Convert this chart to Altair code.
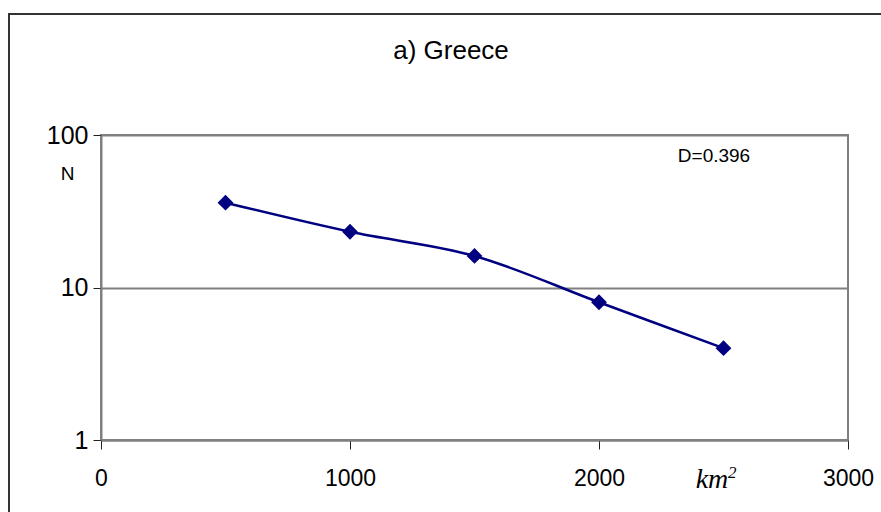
import altair as alt
import pandas as pd

# Number of events N per area class (km^2), log-scaled count axis
area_km2 = [500, 1000, 1500, 2000, 2500]
count_n = [36.0, 23.2, 16.1, 8.0, 4.0]
x_ticks = [0, 1000, 2000, 3000]
y_ticks = [1, 10, 100]
title_text = "a) Greece"
dim_label = "D=0.396"

df = pd.DataFrame({"area": area_km2, "n": count_n})
one = pd.DataFrame({"k": [0]})

NAVY = "#000080"
GRID = "#808080"
FONT = "Liberation Sans"

x_enc = alt.X(
    "area:Q",
    scale=alt.Scale(domain=[0, 3000], nice=False, zero=False),
    axis=alt.Axis(
        values=x_ticks, format="d", grid=False, title=None,
        labelFontSize=23, labelPadding=18, tickSize=9, labelFlush=False,
    ),
)
y_enc = alt.Y(
    "n:Q",
    scale=alt.Scale(type="log", domain=[1, 100], nice=False),
    axis=alt.Axis(
        values=y_ticks, format="d", grid=True, gridColor=GRID, gridWidth=2,
        labelFontSize=25, labelPadding=5, tickSize=8,
        title="N", titleAngle=0, titleAlign="center", titleBaseline="middle",
        titleX=-34, titleY=38, titleFontSize=19, titleFontWeight="normal",
        titleFont=FONT,
    ),
)

base = alt.Chart(df)

curve = base.mark_line(color=NAVY, strokeWidth=2.5, interpolate="catmull-rom").encode(
    x=x_enc, y=y_enc
)
markers = base.mark_point(
    shape="diamond", filled=True, size=250, color=NAVY, opacity=1
).encode(x="area:Q", y="n:Q")

title_mark = alt.Chart(one).mark_text(
    text=title_text, font=FONT, fontSize=26, align="center", baseline="alphabetic", color="black"
).encode(x=alt.value(350), y=alt.value(-76))

d_text = alt.Chart(one).mark_text(
    text=dim_label, font=FONT, fontSize=19, align="center", baseline="middle", color="black"
).encode(x=alt.value(613), y=alt.value(21))

km_text = alt.Chart(one).mark_text(
    text="km", font="Liberation Serif", fontStyle="italic", fontSize=28,
    align="center", baseline="alphabetic", color="black"
).encode(x=alt.value(611), y=alt.value(353))

sq_text = alt.Chart(one).mark_text(
    text="2", font="Liberation Serif", fontStyle="italic", fontSize=17,
    align="left", baseline="alphabetic", color="black"
).encode(x=alt.value(627), y=alt.value(343))

frame = alt.Chart(one).mark_rect(
    fill=None, fillOpacity=0, stroke="#333333", strokeWidth=2
).encode(x=alt.value(-92), y=alt.value(-121), x2=alt.value(900), y2=alt.value(500))

chart = (
    alt.layer(frame, curve, markers, title_mark, d_text, km_text, sq_text)
    .properties(
        width=747,
        height=305,
        autosize=alt.AutoSizeParams(type="none"),
        padding={"left": 101, "top": 135, "right": 33, "bottom": 72},
        background="white",
    )
    .configure_view(stroke=GRID, strokeWidth=2)
    .configure_axis(
        domainColor=GRID, domainWidth=2, tickColor="#222222", tickWidth=1,
        labelColor="black", labelFont=FONT,
    )
)

chart.save("out.html", embed_options={"renderer": "svg", "actions": False})
